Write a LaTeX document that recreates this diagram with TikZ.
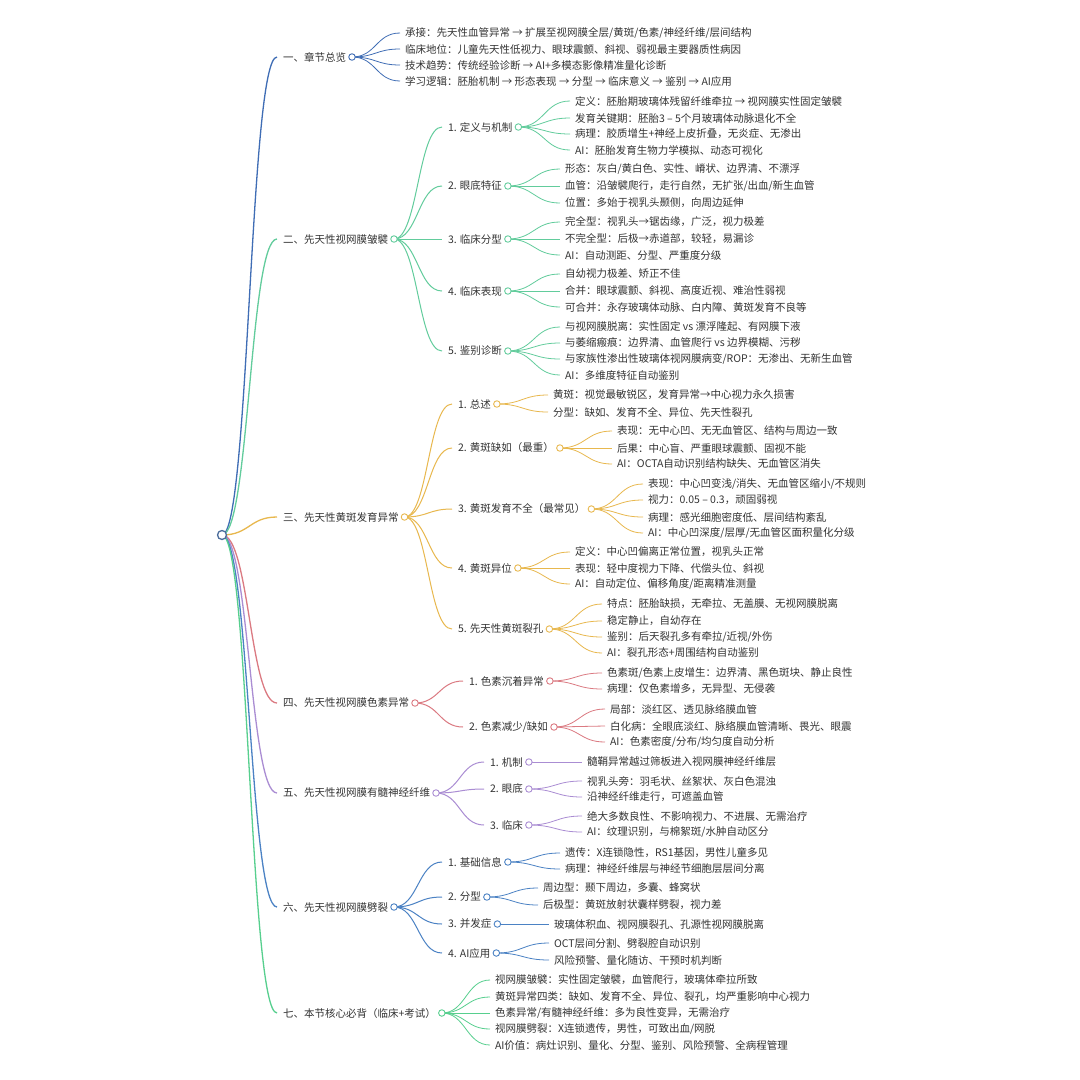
\documentclass[tikz,border=0pt]{standalone}
\usepackage{fontspec}
\setmainfont{Noto Sans CJK SC}
\usetikzlibrary{calc}
\pgfdeclarelayer{bg}
\pgfsetlayers{bg,main}
\definecolor{tc}{HTML}{333333}
\definecolor{rootc}{HTML}{4A6C9B}
\definecolor{cA}{HTML}{3F6DB5}
\definecolor{cB}{HTML}{62CC9C}
\definecolor{cC}{HTML}{E8B84E}
\definecolor{cD}{HTML}{DB7A82}
\definecolor{cE}{HTML}{AA8DD3}
\definecolor{cF}{HTML}{4B82C4}
\definecolor{cG}{HTML}{57CF8E}
\newcommand\mmlink[3]{\begin{pgfonlayer}{bg}\draw[#1] let \p1=(#2),\p2=(#3) in (\p1) .. controls ({0.5*\x1+0.5*\x2},\y1) and ({0.5*\x1+0.5*\x2},\y2) .. (\p2);\end{pgfonlayer}}
% name, parent, x, y, linkstyle, text
\newcommand\mmleaf[6]{\node[txt] (#1) at (#3,#4) {#6};\mmlink{#5}{#2.center}{[xshift=-5pt]#1.west}}
% name, parent, x, y, colour, width style, text
\newcommand\mmmid[7]{\node[txt] (#1) at (#3,#4) {#7};\node[dot=#5] (#1c) at ([xshift=6pt]#1.east) {};\mmlink{#5,#6}{#2.center}{[xshift=-6pt]#1.west}}
\begin{document}
\begin{tikzpicture}[x=1pt,y=-1pt,
  txt/.style={anchor=west,inner sep=0pt,outer sep=0pt,text=tc,font=\fontsize{10.5}{12}\selectfont},
  dot/.style={circle,draw=#1,fill=white,line width=0.9pt,minimum size=6.5pt,inner sep=0pt},
  rootdot/.style={circle,draw=rootc,fill=white,line width=1.3pt,minimum size=9pt,inner sep=0pt},
  w1/.style={line width=1.3pt},
  w2/.style={line width=1.0pt},
  w3/.style={line width=0.8pt}]
\begin{pgfonlayer}{bg}
\fill[white] (0,0) rectangle (1080,1080);
\end{pgfonlayer}
\useasboundingbox (0,0) rectangle (1080,1080);

\node[rootdot] (R) at (222,535) {};

% ---------- 一
\mmmid{A}{R}{283}{57}{cA}{w1}{一、章节总览}
\mmleaf{A1}{Ac}{405}{33}{cA,w3}{承接：先天性血管异常 → 扩展至视网膜全层/黄斑/色素/神经纤维/层间结构}
\mmleaf{A2}{Ac}{405}{49}{cA,w3}{临床地位：儿童先天性低视力、眼球震颤、斜视、弱视最主要器质性病因}
\mmleaf{A3}{Ac}{405}{65}{cA,w3}{技术趋势：传统经验诊断 → AI+多模态影像精准量化诊断}
\mmleaf{A4}{Ac}{405}{81}{cA,w3}{学习逻辑：胚胎机制 → 形态表现 → 分型 → 临床意义 → 鉴别 → AI应用}

% ---------- 二
\mmmid{B}{R}{283}{239}{cB}{w1}{二、先天性视网膜皱襞}
\mmmid{B1}{Bc}{448}{127}{cB}{w2}{1. 定义与机制}
\mmleaf{B11}{B1c}{575}{101}{cB,w3}{定义：胚胎期玻璃体残留纤维牵拉 → 视网膜实性固定皱襞}
\mmleaf{B12}{B1c}{575}{118}{cB,w3}{发育关键期：胚胎3 – 5个月玻璃体动脉退化不全}
\mmleaf{B13}{B1c}{575}{134}{cB,w3}{病理：胶质增生+神经上皮折叠，无炎症、无渗出}
\mmleaf{B14}{B1c}{575}{150}{cB,w3}{AI：胚胎发育生物力学模拟、动态可视化}
\mmmid{B2}{Bc}{448}{186}{cB}{w2}{2. 眼底特征}
\mmleaf{B21}{B2c}{565}{169}{cB,w3}{形态：灰白/黄白色、实性、嵴状、边界清、不漂浮}
\mmleaf{B22}{B2c}{565}{186}{cB,w3}{血管：沿皱襞爬行，走行自然，无扩张/出血/新生血管}
\mmleaf{B23}{B2c}{565}{203}{cB,w3}{位置：多始于视乳头颞侧，向周边延伸}
\mmmid{B3}{Bc}{448}{239}{cB}{w2}{3. 临床分型}
\mmleaf{B31}{B3c}{565}{222}{cB,w3}{完全型：视乳头→锯齿缘，广泛，视力极差}
\mmleaf{B32}{B3c}{565}{239}{cB,w3}{不完全型：后极→赤道部，较轻，易漏诊}
\mmleaf{B33}{B3c}{565}{255}{cB,w3}{AI：自动测距、分型、严重度分级}
\mmmid{B4}{Bc}{448}{291}{cB}{w2}{4. 临床表现}
\mmleaf{B41}{B4c}{565}{274}{cB,w3}{自幼视力极差、矫正不佳}
\mmleaf{B42}{B4c}{565}{291}{cB,w3}{合并：眼球震颤、斜视、高度近视、难治性弱视}
\mmleaf{B43}{B4c}{565}{307}{cB,w3}{可合并：永存玻璃体动脉、白内障、黄斑发育不良等}
\mmmid{B5}{Bc}{448}{351}{cB}{w2}{5. 鉴别诊断}
\mmleaf{B51}{B5c}{565}{327}{cB,w3}{与视网膜脱离：实性固定 vs 漂浮隆起、有网膜下液}
\mmleaf{B52}{B5c}{565}{343}{cB,w3}{与萎缩瘢痕：边界清、血管爬行 vs 边界模糊、污秽}
\mmleaf{B53}{B5c}{565}{359}{cB,w3}{与家族性渗出性玻璃体视网膜病变/ROP：无渗出、无新生血管}
\mmleaf{B54}{B5c}{565}{375}{cB,w3}{AI：多维度特征自动鉴别}

% ---------- 三
\mmmid{C}{R}{283}{517}{cC}{w1}{三、先天性黄斑发育异常}
\mmmid{C1}{Cc}{458}{404}{cC}{w2}{1. 总述}
\mmleaf{C11}{C1c}{553}{395}{cC,w3}{黄斑：视觉最敏锐区，发育异常→中心视力永久损害}
\mmleaf{C12}{C1c}{553}{412}{cC,w3}{分型：缺如、发育不全、异位、先天性裂孔}
\mmmid{C2}{Cc}{458}{448}{cC}{w2}{2. 黄斑缺如（最重）}
\mmleaf{C21}{C2c}{617}{431}{cC,w3}{表现：无中心凹、无无血管区、结构与周边一致}
\mmleaf{C22}{C2c}{617}{448}{cC,w3}{后果：中心盲、严重眼球震颤、固视不能}
\mmleaf{C23}{C2c}{617}{464}{cC,w3}{AI：OCTA自动识别结构缺失、无血管区消失}
\mmmid{C3}{Cc}{458}{509}{cC}{w2}{3. 黄斑发育不全（最常见）}
\mmleaf{C31}{C3c}{648}{484}{cC,w3}{表现：中心凹变浅/消失、无血管区缩小/不规则}
\mmleaf{C32}{C3c}{648}{500}{cC,w3}{视力：0.05 – 0.3，顽固弱视}
\mmleaf{C33}{C3c}{648}{517}{cC,w3}{病理：感光细胞密度低、层间结构紊乱}
\mmleaf{C34}{C3c}{648}{533}{cC,w3}{AI：中心凹深度/层厚/无血管区面积量化分级}
\mmmid{C4}{Cc}{458}{568}{cC}{w2}{4. 黄斑异位}
\mmleaf{C41}{C4c}{575}{552}{cC,w3}{定义：中心凹偏离正常位置，视乳头正常}
\mmleaf{C42}{C4c}{575}{568}{cC,w3}{表现：轻中度视力下降、代偿头位、斜视}
\mmleaf{C43}{C4c}{575}{584}{cC,w3}{AI：自动定位、偏移角度/距离精准测量}
\mmmid{C5}{Cc}{458}{629}{cC}{w2}{5. 先天性黄斑裂孔}
\mmleaf{C51}{C5c}{607}{604}{cC,w3}{特点：胚胎缺损，无牵拉、无盖膜、无视网膜脱离}
\mmleaf{C52}{C5c}{607}{621}{cC,w3}{稳定静止，自幼存在}
\mmleaf{C53}{C5c}{607}{637}{cC,w3}{鉴别：后天裂孔多有牵拉/近视/外伤}
\mmleaf{C54}{C5c}{607}{653}{cC,w3}{AI：裂孔形态+周围结构自动鉴别}

% ---------- 四
\mmmid{D}{R}{283}{703}{cD}{w1}{四、先天性视网膜色素异常}
\mmmid{D1}{Dc}{469}{681}{cD}{w2}{1. 色素沉着异常}
\mmleaf{D11}{D1c}{607}{673}{cD,w3}{色素斑/色素上皮增生：边界清、黑色斑块、静止良性}
\mmleaf{D12}{D1c}{607}{689}{cD,w3}{病理：仅色素增多，无异型、无侵袭}
\mmmid{D2}{Dc}{469}{727}{cD}{w2}{2. 色素减少/缺如}
\mmleaf{D21}{D2c}{610}{709}{cD,w3}{局部：淡红区、透见脉络膜血管}
\mmleaf{D22}{D2c}{610}{726}{cD,w3}{白化病：全眼底淡红、脉络膜血管清晰、畏光、眼震}
\mmleaf{D23}{D2c}{610}{742}{cD,w3}{AI：色素密度/分布/均匀度自动分析}

% ---------- 五
\mmmid{E}{R}{283}{793}{cE}{w1}{五、先天性视网膜有髓神经纤维}
\mmmid{E1}{Ec}{490}{762}{cE}{w2}{1. 机制}
\mmleaf{E11}{E1c}{587}{762}{cE,w3}{髓鞘异常越过筛板进入视网膜神经纤维层}
\mmmid{E2}{Ec}{490}{789}{cE}{w2}{2. 眼底}
\mmleaf{E21}{E2c}{587}{781}{cE,w3}{视乳头旁：羽毛状、丝絮状、灰白色混浊}
\mmleaf{E22}{E2c}{587}{797}{cE,w3}{沿神经纤维走行，可遮盖血管}
\mmmid{E3}{Ec}{490}{825}{cE}{w2}{3. 临床}
\mmleaf{E31}{E3c}{587}{816}{cE,w3}{绝大多数良性、不影响视力、不进展、无需治疗}
\mmleaf{E32}{E3c}{587}{832}{cE,w3}{AI：纹理识别，与棉絮斑/水肿自动区分}

% ---------- 六
\mmmid{F}{R}{283}{907}{cF}{w1}{六、先天性视网膜劈裂}
\mmmid{F1}{Fc}{448}{862}{cF}{w2}{1. 基础信息}
\mmleaf{F11}{F1c}{565}{853}{cF,w3}{遗传：X连锁隐性，RS1基因，男性儿童多见}
\mmleaf{F12}{F1c}{565}{869}{cF,w3}{病理：神经纤维层与神经节细胞层层间分离}
\mmmid{F2}{Fc}{448}{897}{cF}{w2}{2. 分型}
\mmleaf{F21}{F2c}{543}{888}{cF,w3}{周边型：颞下周边，多囊、蜂窝状}
\mmleaf{F22}{F2c}{543}{905}{cF,w3}{后极型：黄斑放射状囊样劈裂，视力差}
\mmmid{F3}{Fc}{448}{924}{cF}{w2}{3. 并发症}
\mmleaf{F31}{F3c}{554}{924}{cF,w3}{玻璃体积血、视网膜裂孔、孔源性视网膜脱离}
\mmmid{F4}{Fc}{448}{953}{cF}{w2}{4. AI应用}
\mmleaf{F41}{F4c}{554}{943}{cF,w3}{OCT层间分割、劈裂腔自动识别}
\mmleaf{F42}{F4c}{554}{960}{cF,w3}{风险预警、量化随访、干预时机判断}

% ---------- 七
\mmmid{G}{R}{283}{1013}{cG}{w1}{七、本节核心必背（临床+考试）}
\mmleaf{G1}{Gc}{495}{980}{cG,w3}{视网膜皱襞：实性固定皱襞，血管爬行，玻璃体牵拉所致}
\mmleaf{G2}{Gc}{495}{997}{cG,w3}{黄斑异常四类：缺如、发育不全、异位、裂孔，均严重影响中心视力}
\mmleaf{G3}{Gc}{495}{1013}{cG,w3}{色素异常/有髓神经纤维：多为良性变异，无需治疗}
\mmleaf{G4}{Gc}{495}{1029}{cG,w3}{视网膜劈裂：X连锁遗传，男性，可致出血/网脱}
\mmleaf{G5}{Gc}{495}{1045}{cG,w3}{AI价值：病灶识别、量化、分型、鉴别、风险预警、全病程管理}
\end{tikzpicture}
\end{document}
